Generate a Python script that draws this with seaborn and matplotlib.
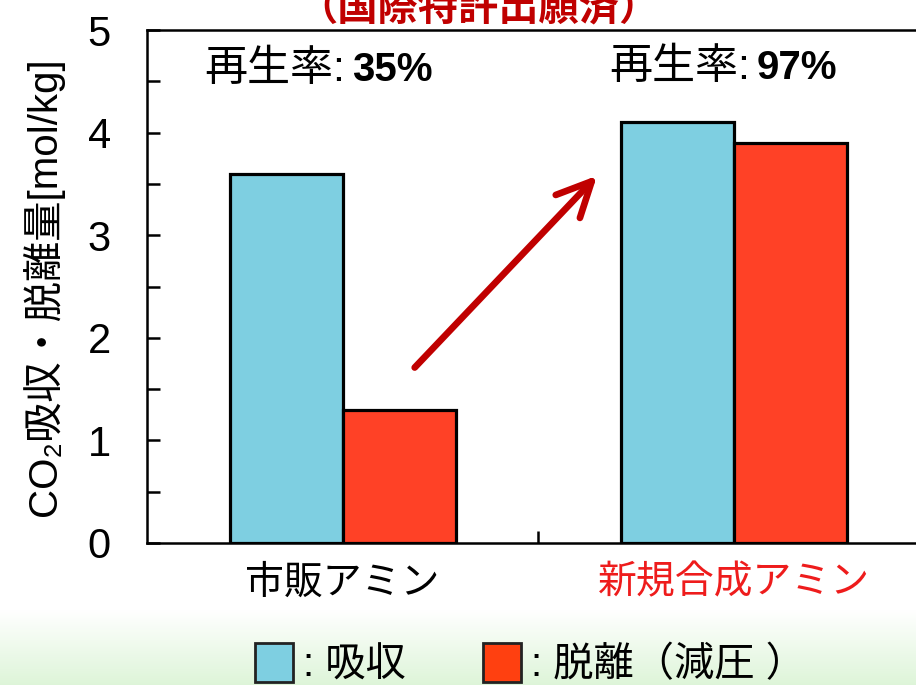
import numpy as np
import pandas as pd
import matplotlib
matplotlib.use("Agg")
import matplotlib.pyplot as plt
from matplotlib.patches import Patch
import seaborn as sns

# データ
categories = ["市販アミン", "新規合成アミン"]
kinds = ["吸収", "脱離"]
absorb = [3.6, 4.1]
desorb = [1.3, 3.9]
regen_rate = ["35%", "97%"]
label_colors = ["black", "#EE1C1C"]

df = pd.DataFrame({
    "カテゴリ": categories * 2,
    "種類": [kinds[0]] * 2 + [kinds[1]] * 2,
    "値": absorb + desorb,
})

sns.set_style("white")
plt.rcParams["font.family"] = ["Liberation Sans", "Noto Sans CJK JP", "DejaVu Sans"]
plt.rcParams["text.color"] = "black"
plt.rcParams["axes.labelcolor"] = "black"
plt.rcParams["xtick.color"] = "black"
plt.rcParams["ytick.color"] = "black"

blue = "#7ECFE1"
red = "#FF4126"

fig = plt.figure(figsize=(9.16, 6.85), dpi=100)

# 下部の薄い緑のグラデーション背景
bg = fig.add_axes([0, 0, 1, 75 / 685], zorder=-1)
grad = np.linspace(0, 1, 100)[:, None]
top = np.array([1.0, 1.0, 1.0])
bottom = np.array([0.87, 0.96, 0.85])
img = top * (1 - grad[..., None]) + bottom * grad[..., None]
bg.imshow(np.repeat(img, 2, axis=1), aspect="auto", extent=[0, 1, 0, 1])
bg.axis("off")

ax = fig.add_axes([147 / 916, 1 - 543 / 685, (916 - 147) / 916, 513 / 685])
sns.barplot(data=df, x="カテゴリ", y="値", hue="種類", palette=[blue, red],
            width=0.578, saturation=1, edgecolor="black", linewidth=2.3,
            legend=False, ax=ax)

ax.set_xlim(-0.5, 1.465)
ax.set_ylim(0, 5)
ax.set_yticks([0, 1, 2, 3, 4, 5])
ax.set_yticks(np.arange(0.5, 5, 1), minor=True)
ax.set_xticks([0.5], minor=True)
ax.tick_params(axis="y", which="both", left=True, direction="in", length=9,
               width=1.8)
ax.tick_params(axis="y", which="major", labelsize=30, pad=26)
ax.tick_params(axis="x", which="major", bottom=True, length=0, labelsize=28, pad=16)
ax.tick_params(axis="x", which="minor", bottom=True, direction="in", length=9,
               width=1.8)
for lbl, c in zip(ax.get_xticklabels(), label_colors):
    lbl.set_color(c)

for side in ["left", "bottom", "top"]:
    ax.spines[side].set_linewidth(1.8)
    ax.spines[side].set_color("black")
ax.spines["right"].set_visible(False)

ax.set_xlabel("")
ax.set_ylabel("CO₂吸収・脱離量[mol/kg]", fontsize=29)
ax.yaxis.set_label_coords(-0.108, 0.5)

# 再生率
for i, r in enumerate(regen_rate):
    xs = [0.005, 1.04][i]
    ys = [4.61, 4.63][i]
    ax.text(xs, ys, "再生率:", fontsize=31, ha="right", va="center")
    ax.text(xs + 0.018, ys, r, fontsize=29, fontweight="bold", ha="left", va="center")

# 矢印
ax.annotate("", xy=(0.65, 3.58), xytext=(0.184, 1.71),
            arrowprops=dict(arrowstyle="->,head_length=2.5,head_width=1.2",
                            color="#C00000", lw=4.8, shrinkA=0, shrinkB=0,
                            capstyle="round", joinstyle="round"))

# タイトル（上部で切れている）
fig.text(0.522, 1 - 20 / 685, "（国際特許出願済）", fontsize=29, fontweight="bold",
         color="#C00000", ha="center", va="baseline")

handles = [Patch(facecolor=blue, edgecolor="#222222", linewidth=2),
           Patch(facecolor="#FF4010", edgecolor="#222222", linewidth=2)]
fig.legend(handles, [": 吸収", ": 脱離（減圧 ）"], loc="center left",
           bbox_to_anchor=(255 / 916, 1 - 664 / 685), ncol=2, frameon=False,
           fontsize=29, handlelength=0.95, handleheight=1.1, handletextpad=0.25,
           columnspacing=1.9, borderpad=0, borderaxespad=0)

fig.savefig("out.png", dpi=100)
